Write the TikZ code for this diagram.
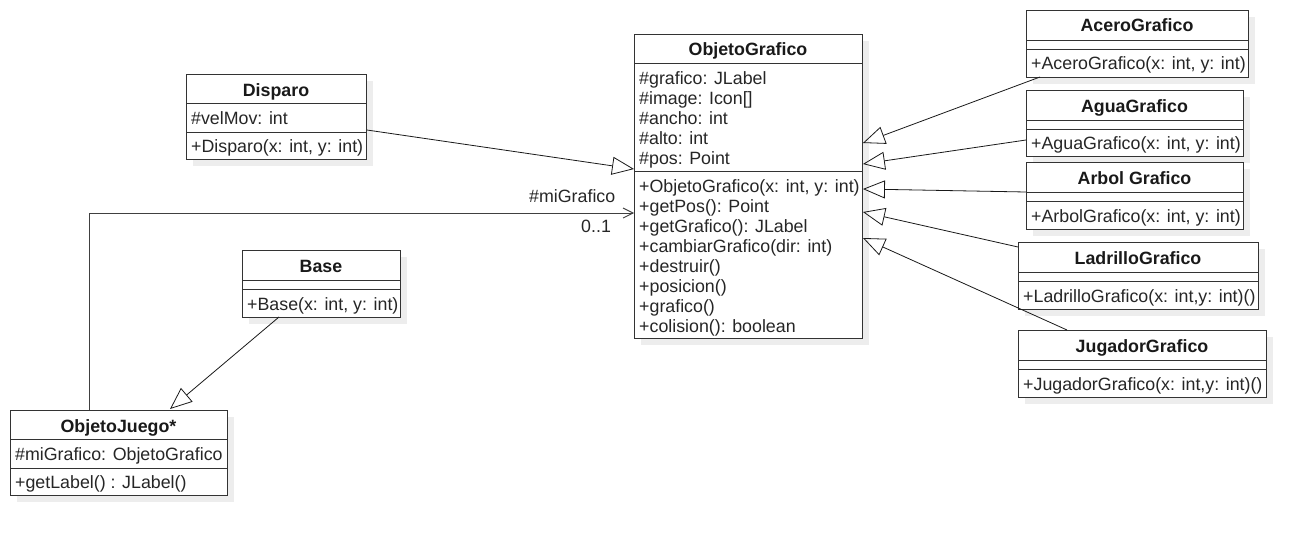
\documentclass[tikz,border=0pt]{standalone}
\usepackage{fontspec}
\setmainfont{Liberation Sans}
\usetikzlibrary{arrows.meta,shadows,calc}
\tikzset{
  cls/.style={draw=black!80, fill=white, line width=0.9pt, inner sep=0pt, anchor=north west,
    drop shadow={shadow xshift=7pt, shadow yshift=-7pt, fill=black!7, opacity=1}},
  sep/.style={draw=black!80, line width=0.9pt},
  ttl/.style={font=\fontsize{17.8}{20}\selectfont\bfseries, text=black!90, inner sep=0pt, anchor=base},
  txt/.style={font=\fontsize{17.8}{20}\selectfont, text=black!85, inner sep=0pt, anchor=base west},
  inh/.style={draw=black!90, line width=0.8pt, -{Triangle[open, length=22pt, width=18pt, line width=0.8pt]}},
  asc/.style={draw=black!75, line width=1pt, -{Straight Barb[length=10pt, width=10pt, line width=0.9pt]}},
  lbl/.style={font=\fontsize{17.8}{20}\selectfont, text=black!85, inner sep=0pt, anchor=base west}
}
\begin{document}
\begin{tikzpicture}[x=1pt,y=-1pt]
\useasboundingbox (0,0) rectangle (1305,535);

% ObjetoGrafico
\node[cls, minimum width=228pt, minimum height=304pt] (og) at (634,34) {};
\draw[sep] (634,63) -- (862,63) (634,171) -- (862,171);
\node[ttl] (ogt) at (748,56) {ObjetoGrafico};
\node[txt] (oga1) at (639,84) {\#grafico: JLabel};
\node[txt] (oga2) at (639,104) {\#image: Icon[]};
\node[txt] (oga3) at (639,124) {\#ancho: int};
\node[txt] (oga4) at (639,144) {\#alto: int};
\node[txt] (oga5) at (639,164) {\#pos: Point};
\node[txt] (ogm1) at (639,192) {+ObjetoGrafico(x: int, y: int)};
\node[txt] (ogm2) at (639,212) {+getPos(): Point};
\node[txt] (ogm3) at (639,232) {+getGrafico(): JLabel};
\node[txt] (ogm4) at (639,252) {+cambiarGrafico(dir: int)};
\node[txt] (ogm5) at (639,272) {+destruir()};
\node[txt] (ogm6) at (639,292) {+posicion()};
\node[txt] (ogm7) at (639,312) {+grafico()};
\node[txt] (ogm8) at (639,332) {+colision(): boolean};

% AceroGrafico
\node[cls, minimum width=222pt, minimum height=67pt] (ac) at (1026,10) {};
\draw[sep] (1026,40) -- (1248,40) (1026,49) -- (1248,49);
\node[ttl] (act) at (1137,32) {AceroGrafico};
\node[txt] (acm) at (1031,70) {+AceroGrafico(x: int, y: int)};

% AguaGrafico
\node[cls, minimum width=217pt, minimum height=66pt] (ag) at (1026,90) {};
\draw[sep] (1026,120) -- (1243,120) (1026,129) -- (1243,129);
\node[ttl] (agt) at (1134.5,112) {AguaGrafico};
\node[txt] (agm) at (1031,149) {+AguaGrafico(x: int, y: int)};

% Arbol Grafico
\node[cls, minimum width=217pt, minimum height=67pt] (ar) at (1026,162) {};
\draw[sep] (1026,192) -- (1243,192) (1026,201) -- (1243,201);
\node[ttl] (art) at (1134.5,184) {Arbol Grafico};
\node[txt] (arm) at (1031,222) {+ArbolGrafico(x: int, y: int)};

% LadrilloGrafico
\node[cls, minimum width=240pt, minimum height=67pt] (la) at (1018,242) {};
\draw[sep] (1018,272) -- (1258,272) (1018,281) -- (1258,281);
\node[ttl] (lat) at (1138,264) {LadrilloGrafico};
\node[txt] (lam) at (1023,302) {+LadrilloGrafico(x: int,y: int)()};

% JugadorGrafico
\node[cls, minimum width=248pt, minimum height=67pt] (ju) at (1018,330) {};
\draw[sep] (1018,360) -- (1266,360) (1018,369) -- (1266,369);
\node[ttl] (jut) at (1142,352) {JugadorGrafico};
\node[txt] (jum) at (1023,390) {+JugadorGrafico(x: int,y: int)()};

% Disparo
\node[cls, minimum width=180pt, minimum height=85pt] (di) at (186,74) {};
\draw[sep] (186,103) -- (366,103) (186,132) -- (366,132);
\node[ttl] (dit) at (276,96) {Disparo};
\node[txt] (dia) at (191,124) {\#velMov: int};
\node[txt] (dim) at (191,152) {+Disparo(x: int, y: int)};

% Base
\node[cls, minimum width=158pt, minimum height=67pt] (ba) at (242,250) {};
\draw[sep] (242,280) -- (400,280) (242,289) -- (400,289);
\node[ttl] (bat) at (321,272) {Base};
\node[txt] (bam) at (247,310) {+Base(x: int, y: int)};

% ObjetoJuego*
\node[cls, minimum width=217pt, minimum height=85pt] (oj) at (10,410) {};
\draw[sep] (10,439) -- (227,439) (10,468) -- (227,468);
\node[ttl] (ojt) at (118.5,432) {ObjetoJuego*};
\node[txt] (oja) at (15,460) {\#miGrafico: ObjetoGrafico};
\node[txt] (ojm) at (15,488) {+getLabel() : JLabel()};

% Inheritance
\draw[inh] (di.east |- 0,130) -- (og.west |- 0,169);
\draw[inh] (1040,77) -- (og.east |- 0,143);
\draw[inh] (ag.west |- 0,140) -- (og.east |- 0,164);
\draw[inh] (ar.west |- 0,192) -- (og.east |- 0,189);
\draw[inh] (la.west |- 0,247) -- (og.east |- 0,212);
\draw[inh] (1067,330) -- (og.east |- 0,238);
\draw[inh] (279,317) -- (170,409);

% Association
\coordinate (c1) at (89,213);
\draw[asc] (oj.north -| c1) -- (c1) -- (og.west |- c1);
\node[lbl] (l1) at (529,202) {\#miGrafico};
\node[lbl] (l2) at (581,232) {0..1};
\end{tikzpicture}
\end{document}
